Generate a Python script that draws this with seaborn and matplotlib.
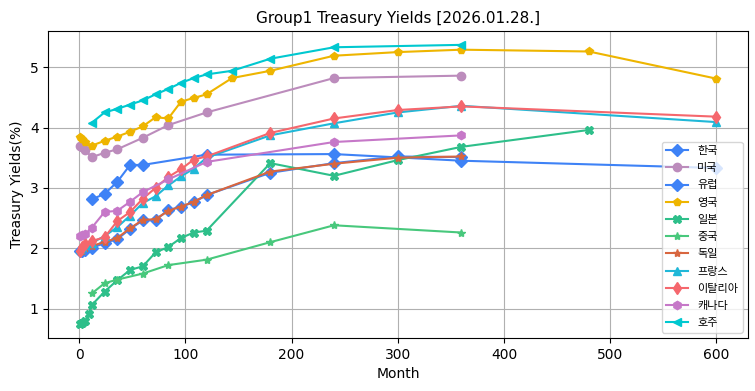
import pandas as pd
import seaborn as sns
import matplotlib.pyplot as plt

plt.rcParams['font.family'] = ['DejaVu Sans', 'Noto Sans CJK KR']

countries = ['한국', '미국', '유럽', '영국', '일본', '중국', '독일', '프랑스', '이탈리아', '캐나다', '호주']

months = {
    '한국': [12, 24, 36, 48, 60, 120, 240, 360, 600],
    '미국': [1, 3, 6, 12, 24, 36, 60, 84, 120, 240, 360],
    '유럽': [1, 3, 6, 12, 24, 36, 48, 60, 72, 84, 96, 108, 120, 180, 240, 300, 360],
    '영국': [1, 3, 6, 12, 24, 36, 48, 60, 72, 84, 96, 108, 120, 144, 180, 240, 300, 360, 480, 600],
    '일본': [1, 3, 6, 9, 12, 24, 36, 48, 60, 72, 84, 96, 108, 120, 180, 240, 300, 360, 480],
    '중국': [12, 24, 36, 60, 84, 120, 180, 240, 360],
    '독일': [1, 3, 6, 12, 24, 36, 48, 60, 72, 84, 96, 108, 120, 180, 240, 300, 360],
    '프랑스': [1, 3, 6, 12, 24, 36, 48, 60, 72, 84, 96, 108, 120, 180, 240, 300, 360, 600],
    '이탈리아': [1, 3, 6, 12, 24, 36, 48, 60, 72, 84, 96, 108, 120, 180, 240, 300, 360, 600],
    '캐나다': [1, 3, 6, 12, 24, 36, 48, 60, 84, 120, 240, 360],
    '호주': [12, 24, 36, 48, 60, 72, 84, 96, 108, 120, 144, 180, 240, 360],
}

yields = {
    '한국': [2.81, 2.90, 3.10, 3.38, 3.38, 3.55, 3.56, 3.45, 3.33],
    '미국': [3.70, 3.67, 3.62, 3.51, 3.58, 3.64, 3.83, 4.04, 4.25, 4.82, 4.86],
    '유럽': [1.95, 1.96, 1.97, 2.00, 2.09, 2.15, 2.32, 2.46, 2.47, 2.63, 2.69, 2.76, 2.88, 3.25, 3.41, 3.52, 3.51],
    '영국': [3.85, 3.81, 3.76, 3.70, 3.78, 3.85, 3.93, 4.02, 4.17, 4.15, 4.43, 4.49, 4.55, 4.82, 4.94, 5.19, 5.25, 5.29, 5.26, 4.81],
    '일본': [0.74, 0.76, 0.80, 0.91, 1.06, 1.28, 1.47, 1.64, 1.70, 1.93, 2.02, 2.17, 2.26, 2.29, 3.41, 3.20, 3.46, 3.68, 3.96],
    '중국': [1.25, 1.42, 1.48, 1.58, 1.72, 1.81, 2.10, 2.38, 2.26],
    '독일': [1.93, 1.96, 2.00, 2.04, 2.10, 2.17, 2.33, 2.47, 2.48, 2.62, 2.69, 2.77, 2.88, 3.27, 3.40, 3.50, 3.52],
    '프랑스': [1.98, 2.02, 2.05, 2.09, 2.20, 2.35, 2.54, 2.75, 2.86, 3.04, 3.19, 3.32, 3.50, 3.87, 4.07, 4.25, 4.36, 4.09],
    '이탈리아': [1.95, 2.02, 2.07, 2.12, 2.18, 2.45, 2.60, 2.82, 3.00, 3.18, 3.31, 3.47, 3.52, 3.91, 4.15, 4.29, 4.35, 4.18],
    '캐나다': [2.20, 2.22, 2.24, 2.34, 2.60, 2.62, 2.77, 2.93, 3.14, 3.43, 3.76, 3.87],
    '호주': [4.08, 4.25, 4.31, 4.38, 4.45, 4.55, 4.64, 4.74, 4.82, 4.88, 4.94, 5.14, 5.33, 5.37],
}

colors = {
    '한국': '#3e82f6', '미국': '#bc8cbc', '유럽': '#3e82f6', '영국': '#eeb500',
    '일본': '#2ebf8a', '중국': '#48c87c', '독일': '#d8663f', '프랑스': '#20b8d8',
    '이탈리아': '#f5676d', '캐나다': '#c678c8', '호주': '#00c8d0',
}
markers = {
    '한국': 'D', '미국': 'o', '유럽': 'D', '영국': 'p', '일본': 'X', '중국': '*',
    '독일': '*', '프랑스': '^', '이탈리아': 'd', '캐나다': 'h', '호주': '<',
}

fig, ax = plt.subplots(figsize=(7.55, 3.91), dpi=100)

for c in countries:
    df = pd.DataFrame({'Month': months[c], 'Yield': yields[c]})
    sns.lineplot(data=df, x='Month', y='Yield', ax=ax, color=colors[c], marker=markers[c],
                 markersize=6, markeredgecolor=colors[c], markeredgewidth=1, label=c)

ax.grid(True)
ax.set_title('Group1 Treasury Yields [2026.01.28.]', fontsize=11)
ax.set_xlabel('Month')
ax.set_ylabel('Treasury Yields(%)')
ax.legend(loc='lower right', fontsize=8, labelspacing=0.65)
fig.subplots_adjust(left=0.064, right=0.991, top=0.921, bottom=0.135)
plt.savefig('out.png')
